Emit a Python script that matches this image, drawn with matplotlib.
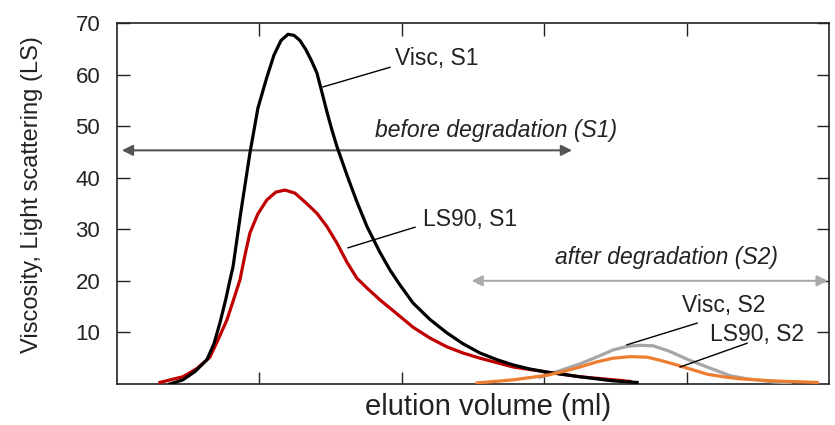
import matplotlib
matplotlib.use('Agg')
import matplotlib.pyplot as plt

plt.rcParams['font.family'] = ['Liberation Sans', 'DejaVu Sans']

# elution volume (arbitrary units, axis has no tick labels)
visc_s1_x = [0.372, 0.463, 0.548, 0.632, 0.681, 0.723, 0.765, 0.794, 0.815, 0.871, 0.934, 0.990,
             1.053, 1.103, 1.152, 1.201, 1.243, 1.285, 1.327, 1.369, 1.404, 1.440, 1.475, 1.510,
             1.545, 1.615, 1.685, 1.756, 1.847, 1.917, 1.987, 2.079, 2.198, 2.317, 2.430, 2.549,
             2.669, 2.781, 2.900, 3.020, 3.251, 3.483, 3.652]
visc_s1_y = [0.0, 0.8, 2.4, 4.7, 7.8, 11.8, 16.5, 20.2, 22.7, 33.5, 44.8, 53.5,
             59.5, 63.8, 66.6, 67.8, 67.6, 66.6, 64.8, 62.5, 60.3, 56.5, 52.7, 49.2,
             46.0, 40.5, 35.3, 30.5, 25.5, 22.1, 19.2, 15.7, 12.5, 9.9, 7.8, 6.0,
             4.7, 3.7, 2.9, 2.3, 1.4, 0.6, 0.3]

ls90_s1_x = [0.302, 0.463, 0.562, 0.653, 0.709, 0.772, 0.815, 0.864, 0.899, 0.934, 0.990, 1.053,
             1.116, 1.180, 1.250, 1.320, 1.404, 1.475, 1.545, 1.615, 1.685, 1.756, 1.847, 1.966,
             2.079, 2.198, 2.317, 2.430, 2.549, 2.781, 3.020, 3.251, 3.532, 3.602]
ls90_s1_y = [0.3, 1.4, 3.0, 5.2, 8.5, 12.4, 16.0, 20.2, 25.0, 29.3, 33.0, 35.7,
             37.2, 37.6, 37.0, 35.3, 33.1, 30.5, 27.3, 23.6, 20.5, 18.6, 16.3, 13.6,
             11.0, 8.9, 7.2, 6.0, 5.0, 3.3, 2.3, 1.4, 0.7, 0.5]

visc_s2_x = [2.970, 3.111, 3.251, 3.392, 3.483, 3.581, 3.672, 3.764, 3.883, 4.003, 4.143, 4.305,
             4.424, 4.607, 4.726]
visc_s2_y = [1.3, 2.6, 3.9, 5.5, 6.6, 7.3, 7.5, 7.4, 6.3, 4.8, 3.3, 1.6,
             1.0, 0.4, 0.2]

ls90_s2_x = [2.528, 2.781, 3.020, 3.146, 3.251, 3.371, 3.483, 3.602, 3.722, 3.813, 3.904, 4.024,
             4.143, 4.256, 4.375, 4.607, 4.916]
ls90_s2_y = [0.2, 0.8, 1.7, 2.5, 3.3, 4.3, 5.0, 5.3, 5.2, 4.6, 3.9, 2.9,
             1.9, 1.4, 1.0, 0.6, 0.3]

yticks = [10, 20, 30, 40, 50, 60, 70]
xticks = [1, 2, 3, 4]

fig = plt.figure(figsize=(8.35, 4.25), dpi=100)
ax = fig.add_axes([0.140, 0.0965, 0.853, 0.8495])

ax.plot(ls90_s1_x, ls90_s1_y, color='#c00000', linewidth=2.3, zorder=3)
ax.plot(visc_s1_x, visc_s1_y, color='black', linewidth=2.3, zorder=4)
ax.plot(visc_s2_x, visc_s2_y, color='#a6a6a6', linewidth=2.3, zorder=3)
ax.plot(ls90_s2_x, ls90_s2_y, color='#ed7d31', linewidth=2.3, zorder=4)

ax.set_xlim(0, 5)
ax.set_ylim(0, 70)
ax.set_xticks(xticks)
ax.set_xticklabels([])
ax.set_yticks(yticks)
ax.set_yticklabels([str(t) for t in yticks], fontsize=16, color='#222222')
ax.tick_params(direction='in', length=9, width=1.0, top=True, right=True, color='#222222', pad=12)
for sp in ax.spines.values():
    sp.set_linewidth(1.2)
    sp.set_color('#222222')

ax.set_xlabel('elution volume (ml)', fontsize=21, color='#222222')
ax.xaxis.set_label_coords(0.521, -0.025)
ax.set_ylabel('Viscosity, Light scattering (LS)', fontsize=17, color='#222222')
ax.yaxis.set_label_coords(-0.104, 0.526)

# curve labels with leader lines
txt = dict(fontsize=16.5, color='#222222', va='center', ha='left')
ax.text(1.952, 63.2, 'Visc, S1', **txt)
ax.plot([1.447, 1.917], [57.6, 61.4], color='black', linewidth=1.0, zorder=5)
ax.text(2.149, 31.8, 'LS90, S1', **txt)
ax.plot([1.622, 2.093], [26.4, 30.4], color='black', linewidth=1.0, zorder=5)
ax.text(3.968, 15.3, 'Visc, S2', **txt)
ax.plot([3.581, 4.073], [7.6, 11.8], color='black', linewidth=1.0, zorder=5)
ax.text(4.164, 9.5, 'LS90, S2', **txt)
ax.plot([3.954, 4.424], [3.3, 7.9], color='black', linewidth=1.0, zorder=5)

# degradation ranges
ax.text(1.812, 49.2, 'before degradation (S1)', style='italic', **txt)
ax.annotate('', xy=(0.035, 45.3), xytext=(3.195, 45.3),
            arrowprops=dict(arrowstyle='<|-|>', color='#555555', lw=1.5,
                            mutation_scale=16, shrinkA=0, shrinkB=0))
ax.text(3.076, 24.6, 'after degradation (S2)', style='italic', **txt)
ax.annotate('', xy=(2.49, 20.0), xytext=(4.99, 20.0),
            arrowprops=dict(arrowstyle='<|-|>', color='#aaaaaa', lw=1.5,
                            mutation_scale=16, shrinkA=0, shrinkB=0),
            annotation_clip=False)

plt.savefig('out.png', dpi=100)
